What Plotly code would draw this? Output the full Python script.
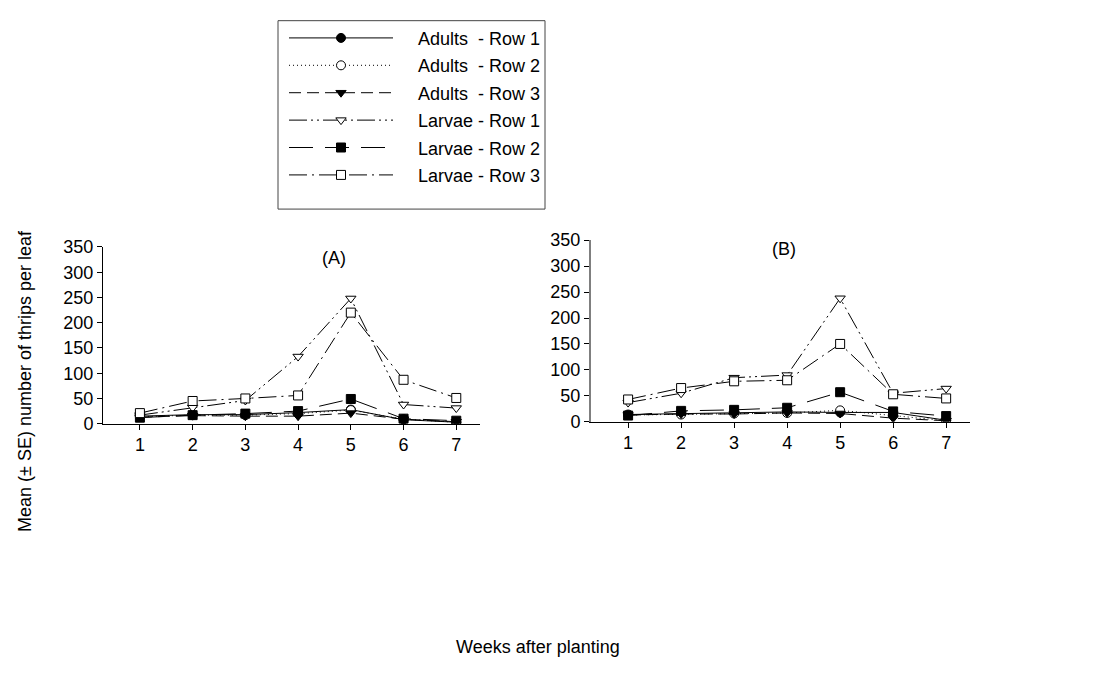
import plotly.graph_objects as go

weeks = [1, 2, 3, 4, 5, 6, 7]
series_names = ["Adults  - Row 1", "Adults  - Row 2", "Adults  - Row 3",
                "Larvae - Row 1", "Larvae - Row 2", "Larvae - Row 3"]

# Panel A
a_adults_r1 = [15, 18, 18, 22, 28, 8, 3]
a_adults_r2 = [14, 17, 17, 20, 27, 9, 3]
a_adults_r3 = [13, 16, 15, 15, 21, 9, 4]
a_larvae_r1 = [17, 32, 46, 133, 248, 38, 31]
a_larvae_r2 = [12, 17, 20, 25, 49, 10, 6]
a_larvae_r3 = [21, 45, 50, 56, 220, 87, 51]

# Panel B
b_adults_r1 = [14, 16, 17, 19, 18, 18, 3]
b_adults_r2 = [13, 14, 16, 17, 22, 12, 2]
b_adults_r3 = [13, 15, 15, 17, 16, 7, 2]
b_larvae_r1 = [37, 55, 85, 90, 238, 55, 64]
b_larvae_r2 = [12, 21, 23, 27, 57, 20, 11]
b_larvae_r3 = [43, 65, 78, 80, 150, 53, 45]

styles = [
    dict(dash="solid", symbol="circle", fill="black"),
    dict(dash="1px,3px", symbol="circle", fill="white"),
    dict(dash="12px,6px", symbol="triangle-down", fill="black"),
    dict(dash="18px,4px,2px,4px,2px,4px", symbol="triangle-down", fill="white"),
    dict(dash="24px,12px", symbol="square", fill="black"),
    dict(dash="18px,5px,2px,5px", symbol="square", fill="white"),
]

panel_a = [a_adults_r1, a_adults_r2, a_adults_r3, a_larvae_r1, a_larvae_r2, a_larvae_r3]
panel_b = [b_adults_r1, b_adults_r2, b_adults_r3, b_larvae_r1, b_larvae_r2, b_larvae_r3]

FONT = "Liberation Sans, Arial, sans-serif"
FS = 18
fig = go.Figure()

for i, (name, st) in enumerate(zip(series_names, styles)):
    for panel, xa, ya, show in ((panel_a, "x", "y", True), (panel_b, "x2", "y2", False)):
        fig.add_trace(go.Scatter(
            x=weeks, y=panel[i], xaxis=xa, yaxis=ya,
            mode="lines+markers", name="\u00a0\u00a0\u00a0\u00a0" + name, showlegend=show,
            legendgroup="g%d" % i,
            line=dict(color="black", width=1, dash=st["dash"]),
            marker=dict(symbol=st["symbol"], size=9, color=st["fill"],
                        line=dict(color="black", width=1)),
        ))

W, H = 1109, 694
def px(x): return x / W
def py(y): return 1 - y / H

axis_common = dict(showgrid=False, zeroline=False, ticks="outside", ticklen=5,
                   tickcolor="black", showline=True,
                   tickfont=dict(family=FONT, size=FS, color="black"))

fig.update_layout(
    width=W, height=H,
    margin=dict(l=0, r=0, t=0, b=0),
    paper_bgcolor="white", plot_bgcolor="white",
    font=dict(family=FONT, size=FS, color="black"),
    xaxis=dict(domain=[px(103), px(480)], range=[0.3, 7.45], tickvals=weeks,
               anchor="y", linecolor="black", linewidth=1, **axis_common),
    yaxis=dict(domain=[py(426), py(244)], range=[0, 350], tickvals=list(range(0, 351, 50)),
               anchor="x", linecolor="black", linewidth=1, **axis_common),
    xaxis2=dict(domain=[px(591), px(970)], range=[0.3, 7.45], tickvals=weeks,
                anchor="y2", linecolor="black", linewidth=1, **axis_common),
    yaxis2=dict(domain=[py(424), py(237)], range=[0, 350], tickvals=list(range(0, 351, 50)),
                anchor="x2", linecolor="#7f7f7f", linewidth=2, **axis_common),
    legend=dict(x=px(284), y=py(10), xanchor="left", yanchor="top",
                borderwidth=0, bgcolor="rgba(0,0,0,0)",
                font=dict(family=FONT, size=FS, color="black"),
                itemwidth=104, tracegroupgap=1, itemclick=False),
    showlegend=True,
    shapes=[dict(type="rect", xref="paper", yref="paper",
                 x0=px(278), x1=px(545), y0=py(205), y1=py(11),
                 line=dict(color="#444444", width=1), layer="below")],
    annotations=[
        dict(text="(A)", x=px(320), y=py(255), xref="paper", yref="paper",
             showarrow=False, font=dict(size=FS)),
        dict(text="(B)", x=px(798), y=py(246), xref="paper", yref="paper",
             showarrow=False, font=dict(size=FS)),
        dict(text="Mean (± SE) number of thrips per leaf", x=px(13), y=py(382),
             xref="paper", yref="paper", showarrow=False, textangle=-90,
             font=dict(size=FS)),
        dict(text="Weeks after planting", x=px(538), y=py(668), xref="paper",
             yref="paper", showarrow=False, font=dict(size=FS)),
    ],
)

fig.write_html("out.html", config={"displayModeBar": False},
               post_script="document.body.style.margin='0';")
